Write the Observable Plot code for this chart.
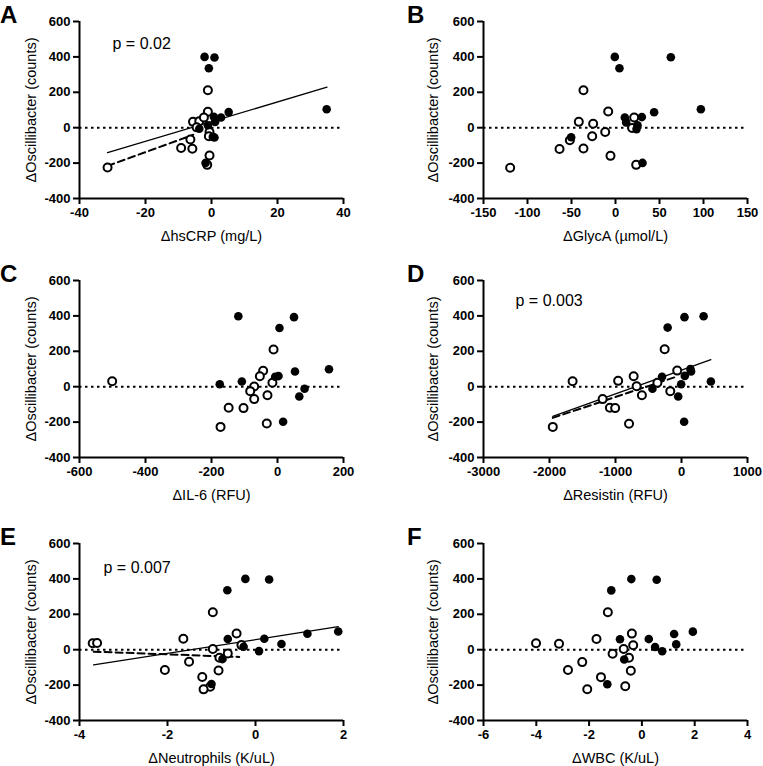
<!DOCTYPE html>
<html><head><meta charset="utf-8">
<script src="https://cdn.jsdelivr.net/npm/d3@7"></script>
<script src="https://cdn.jsdelivr.net/npm/@observablehq/plot@0.6"></script>
<style>
body{margin:0;background:#fff;}
#wrap{position:relative;width:763px;height:766px;background:#fff;font-family:"Liberation Sans",Arial,sans-serif;}
.panel{position:absolute;}
.letter{position:absolute;font-size:24px;font-weight:bold;line-height:1.2;font-family:"Liberation Sans",Arial,sans-serif;}
</style></head><body><div id="wrap"></div>
<script>
// shared
const yTicks = [-400, -200, 0, 200, 400, 600];
const yLabel = "ΔOscillibacter (counts)";

// A: hsCRP
const hsCRPTicks = [-40, -20, 0, 20, 40];
const hsCRPFilled = [[-2.1,400],[0.9,397],[-0.8,336],[5.2,88],[34.9,104],[0.7,62],[2.9,58],[1.1,33],[-1.1,14],[-3.7,-6],[0.4,-52],[0.9,-55],[-1.8,-199]];
const hsCRPOpen = [[-1.1,212],[-1.1,90],[-5.6,33],[-3.7,37],[-2.3,58],[-4.5,2],[-0.6,-24],[-0.8,-48],[-6.4,-67],[-9.2,-115],[-5.8,-119],[-0.6,-157],[-1.3,-210],[-31.5,-225]];
const hsCRPSolid = [[-31.5,-141],[35,229]];
const hsCRPDashed = [[-31.5,-216],[-5.5,-40]];

// B: GlycA
const glycATicks = [-150, -100, -50, 0, 50, 100, 150];
const glycAFilled = [[-0.8,400],[4.5,336],[62.9,398],[43.9,87],[97,104],[10.6,58],[12.1,30],[29.9,60],[25,14],[23.9,-8],[-50.4,-54],[30.7,-199]];
const glycAOpen = [[-36.4,212],[-8.3,92],[-41.7,33],[-25.4,22],[21.2,58],[18.9,-1],[-11.7,-24],[-26.5,-48],[-51.9,-71],[-63.6,-120],[-36.4,-118],[-5.7,-159],[23.5,-210],[-119.7,-226]];

// C: IL-6
const il6Ticks = [-600, -400, -200, 0, 200];
const il6Filled = [[-118.7,398],[50,393],[6,332],[-175,14],[-108,29],[-7,56],[3,60],[53,86],[156,99],[82,-12],[66,-55],[17,-198]];
const il6Open = [[-501,31],[-12,210],[-43.5,90],[-53.5,59],[-70.6,1],[-82.7,-25],[-70.6,-70],[-30.4,-48],[-15.4,22],[-148,-119],[-103,-121],[-172.6,-227],[-32.5,-208]];

// D: Resistin
const resistinTicks = [-3000, -2000, -1000, 0, 1000];
const resistinFilled = [[45,393],[335,398],[-210,334],[-295,56],[-440,-12],[-5,14],[50,61],[135,100],[145,86],[445,29],[-50,-55],[40,-198]];
const resistinOpen = [[-1650,31],[-255,212],[-65,91],[-960,33],[-725,59],[-680,3],[-365,22],[-170,-25],[-600,-48],[-1195,-70],[-1085,-119],[-1005,-121],[-795,-209],[-1950,-227]];
const resistinSolid = [[-1950,-168],[445,153]];
const resistinDashed = [[-1950,-176],[-65,58]];

// E: Neutrophils
const neutTicks = [-4, -2, 0, 2];
const neutFilled = [[-0.23,400],[0.31,397],[-0.64,336],[-0.63,60],[0.2,62],[-0.27,17],[0.08,-8],[0.59,32],[1.18,90],[1.88,103],[-0.75,-53],[-1.0,-194]];
const neutOpen = [[-3.7,36],[-3.6,38],[-1.64,62],[-0.97,212],[-0.43,92],[-0.32,26],[-0.97,4],[-1.51,-68],[-0.63,-21],[-0.82,-45],[-2.06,-115],[-0.84,-118],[-1.21,-154],[-1.03,-209],[-1.18,-224]];
const neutSolid = [[-3.68,-86],[1.88,130]];
const neutDashed = [[-3.68,-11],[-0.37,-41]];

// F: WBC
const wbcTicks = [-6, -4, -2, 0, 2, 4];
const wbcFilled = [[-0.4,399],[0.56,395],[-1.16,335],[-0.83,59],[0.26,60],[0.5,15],[0.77,-9],[1.22,89],[1.3,30],[1.93,102],[-0.67,-55],[-1.31,-195]];
const wbcOpen = [[-4.01,36],[-3.14,34],[-1.29,212],[-1.72,60],[-0.38,91],[-0.69,4],[-0.33,25],[-1.11,-23],[-0.49,-45],[-2.8,-115],[-2.26,-70],[-0.42,-119],[-1.55,-155],[-0.63,-206],[-2.07,-223]];

const panels = [
  {letter:"A", left:0, top:0, ticks:hsCRPTicks, label:"ΔhsCRP (mg/L)", filled:hsCRPFilled, open:hsCRPOpen, solid:hsCRPSolid, dashed:hsCRPDashed, p:"p = 0.02", pdx:33, pdy:22},
  {letter:"B", left:383, top:0, ticks:glycATicks, label:"ΔGlycA (µmol/L)", filled:glycAFilled, open:glycAOpen},
  {letter:"C", left:0, top:259, ticks:il6Ticks, label:"ΔIL-6 (RFU)", filled:il6Filled, open:il6Open},
  {letter:"D", left:383, top:259, ticks:resistinTicks, label:"ΔResistin (RFU)", filled:resistinFilled, open:resistinOpen, solid:resistinSolid, dashed:resistinDashed, p:"p = 0.003", pdx:32, pdy:20},
  {letter:"E", left:0, top:522, ticks:neutTicks, label:"ΔNeutrophils (K/uL)", filled:neutFilled, open:neutOpen, solid:neutSolid, dashed:neutDashed, p:"p = 0.007", pdx:24, pdy:24},
  {letter:"F", left:383, top:522, ticks:wbcTicks, label:"ΔWBC (K/uL)", filled:wbcFilled, open:wbcOpen}
];

const wrap = document.getElementById("wrap");
const font = "Liberation Sans, Arial, sans-serif";

for (const P of panels) {
  const isLeft = P.left === 0;
  const xDomain = [P.ticks[0], P.ticks[P.ticks.length - 1]];
  const marks = [
    Plot.ruleY([0], {strokeDasharray: "2.5,3.5", strokeWidth: 2}),
  ];
  if (P.solid) marks.push(Plot.line(P.solid, {x: d => d[0], y: d => d[1], strokeWidth: 1.3}));
  if (P.dashed) marks.push(Plot.line(P.dashed, {x: d => d[0], y: d => d[1], strokeWidth: 2, strokeDasharray: "7,4"}));
  marks.push(
    Plot.dot(P.open, {x: d => d[0], y: d => d[1], r: 4, fill: "white", stroke: "black", strokeWidth: 2}),
    Plot.dot(P.filled, {x: d => d[0], y: d => d[1], r: 4.3, fill: "black", stroke: "none"}),
    Plot.ruleX([xDomain[0]], {strokeWidth: 2}),
    Plot.ruleY([-400], {strokeWidth: 2}),
    Plot.axisX({ticks: P.ticks, tickFormat: d => String(d), tickSize: 6, tickPadding: 3, strokeWidth: 2, fontSize: 13, fontWeight: "bold", label: null}),
    Plot.axisY({ticks: yTicks, tickFormat: d => String(d), tickSize: 6, tickPadding: 3, strokeWidth: 2, fontSize: 13, fontWeight: "bold", label: null}),
    Plot.text([P.label], {text: d => d, frameAnchor: "bottom", dy: 38, fontSize: 14.5, fontWeight: "normal", lineAnchor: "middle", textAnchor: "middle"}),
    Plot.text([yLabel], {text: d => d, frameAnchor: "left", rotate: -90, dx: isLeft ? -48 : -50, fontSize: 14.5, fontWeight: "normal", textAnchor: "middle", lineAnchor: "middle"})
  );
  if (P.p) marks.push(Plot.text([P.p], {text: d => d, frameAnchor: "top-left", dx: P.pdx, dy: P.pdy, textAnchor: "start", lineAnchor: "middle", fontSize: 16, fontWeight: "normal"}));

  const svg = Plot.plot({
    width: 380, height: 256,
    marginTop: 21, marginBottom: 58,
    marginLeft: isLeft ? 79 : 100,
    marginRight: isLeft ? 37 : 16,
    x: {domain: xDomain},
    y: {domain: [-400, 600]},
    style: {fontFamily: font, background: "transparent", color: "black", overflow: "visible"},
    marks
  });

  const div = document.createElement("div");
  div.className = "panel";
  div.style.left = P.left + "px";
  div.style.top = P.top + "px";
  div.appendChild(svg);
  wrap.appendChild(div);

  const L = document.createElement("div");
  L.className = "letter";
  L.textContent = P.letter;
  L.style.left = (isLeft ? 0 : 407) + "px";
  L.style.top = (P.top + 1) + "px";
  wrap.appendChild(L);
}
</script></body></html>
